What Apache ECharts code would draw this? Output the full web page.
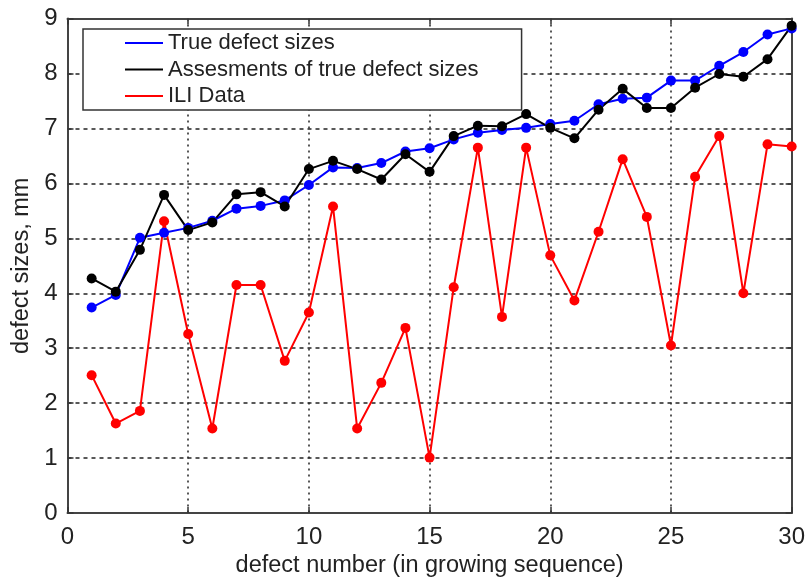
<!DOCTYPE html>
<html>
<head>
<meta charset="utf-8">
<script src="https://cdn.jsdelivr.net/npm/echarts@6/dist/echarts.min.js"></script>
<style>
  html, body { margin: 0; padding: 0; background: #fff; }
  #chart { width: 808px; height: 583px; }
</style>
</head>
<body>
<div id="chart"></div>
<script>
// Defect numbers (in growing sequence)
var defectNumbers = [1,2,3,4,5,6,7,8,9,10,11,12,13,14,15,16,17,18,19,20,21,22,23,24,25,26,27,28,29,30];

// True defect sizes, mm
var trueSizes = [3.74,3.97,5.01,5.10,5.19,5.32,5.54,5.59,5.69,5.97,6.29,6.28,6.37,6.58,6.64,6.80,6.92,6.97,7.01,7.08,7.14,7.44,7.54,7.56,7.87,7.87,8.14,8.39,8.71,8.82];

// Assessments of true defect sizes, mm
var assessedSizes = [4.27,4.03,4.79,5.79,5.15,5.29,5.80,5.84,5.58,6.26,6.41,6.26,6.07,6.53,6.21,6.86,7.05,7.04,7.26,7.01,6.82,7.34,7.72,7.37,7.37,7.74,7.99,7.94,8.26,8.87];

// ILI measurements, mm
var iliSizes = [2.51,1.63,1.86,5.31,3.26,1.54,4.15,4.15,2.77,3.65,5.58,1.54,2.37,3.37,1.01,4.11,6.65,3.57,6.65,4.69,3.87,5.12,6.44,5.39,3.05,6.12,6.86,4.00,6.71,6.67];

var seriesNames = ['True defect sizes', 'Assesments of true defect sizes', 'ILI Data'];
var seriesColors = ['#0000ff', '#000000', '#ff0000'];

function pairs(values) {
  return defectNumbers.map(function (n, i) { return [n, values[i]]; });
}

var FONT = '"Liberation Sans", Arial, Helvetica, sans-serif';
var axisLineStyle = { color: '#444', width: 2 };

var chart = echarts.init(document.getElementById('chart'));

function lineSeries(idx, values) {
  return {
    name: seriesNames[idx],
    type: 'line',
    data: pairs(values),
    symbol: 'circle',
    symbolSize: 10,
    clip: false,
    color: seriesColors[idx],
    lineStyle: { width: 2, color: seriesColors[idx] },
    itemStyle: { color: seriesColors[idx] },
    emphasis: { disabled: true },
    animation: false
  };
}

chart.setOption({
  animation: false,
  backgroundColor: '#fff',
  textStyle: { fontFamily: FONT },
  grid: { left: 67.5, right: 13, top: 18.5, bottom: 60.5, containLabel: false },
  legend: {
    orient: 'vertical',
    left: 83,
    top: 29,
    padding: [3, 43, 3, 42],
    itemGap: 4.5,
    itemWidth: 38,
    itemHeight: 2,
    itemTextGap: 16,
    icon: 'rect',
    backgroundColor: '#fff',
    borderColor: '#333',
    borderWidth: 1.5,
    borderRadius: 0,
    textStyle: { fontFamily: FONT, fontSize: 22, color: '#222', lineHeight: 20 },
    data: seriesNames
  },
  xAxis: [{
    type: 'value',
    min: 0, max: 30, interval: 5,
    name: 'defect number (in growing sequence)',
    nameLocation: 'middle',
    nameGap: 38,
    nameTextStyle: { fontFamily: FONT, fontSize: 23.5, color: '#222' },
    axisLine: { show: true, onZero: false, lineStyle: axisLineStyle },
    axisTick: { show: true, inside: true, length: 6, lineStyle: { color: '#333', width: 1.5 } },
    axisLabel: { fontFamily: FONT, fontSize: 24, color: '#222', margin: 12 },
    splitLine: { show: true, lineStyle: { color: '#222', type: [2, 4], width: 1.5 } }
  }, {
    type: 'value',
    position: 'top',
    min: 0, max: 30, interval: 5,
    axisLine: { show: true, onZero: false, lineStyle: axisLineStyle },
    axisTick: { show: true, inside: true, length: 6, lineStyle: { color: '#333', width: 1.5 } },
    axisLabel: { show: false },
    splitLine: { show: false }
  }],
  yAxis: [{
    type: 'value',
    min: 0, max: 9, interval: 1,
    name: 'defect sizes, mm',
    nameLocation: 'middle',
    nameGap: 28,
    nameTextStyle: { fontFamily: FONT, fontSize: 23.5, color: '#222' },
    axisLine: { show: true, onZero: false, lineStyle: axisLineStyle },
    axisTick: { show: true, inside: true, length: 6, lineStyle: { color: '#333', width: 1.5 } },
    axisLabel: { fontFamily: FONT, fontSize: 24, color: '#222', margin: 10 },
    splitLine: { show: true, lineStyle: { color: '#222', type: [4, 4], width: 1.5 } }
  }, {
    type: 'value',
    position: 'right',
    min: 0, max: 9, interval: 1,
    axisLine: { show: true, onZero: false, lineStyle: axisLineStyle },
    axisTick: { show: true, inside: true, length: 6, lineStyle: { color: '#333', width: 1.5 } },
    axisLabel: { show: false },
    splitLine: { show: false }
  }],
  series: [
    lineSeries(0, trueSizes),
    lineSeries(1, assessedSizes),
    lineSeries(2, iliSizes)
  ]
});
</script>
</body>
</html>
